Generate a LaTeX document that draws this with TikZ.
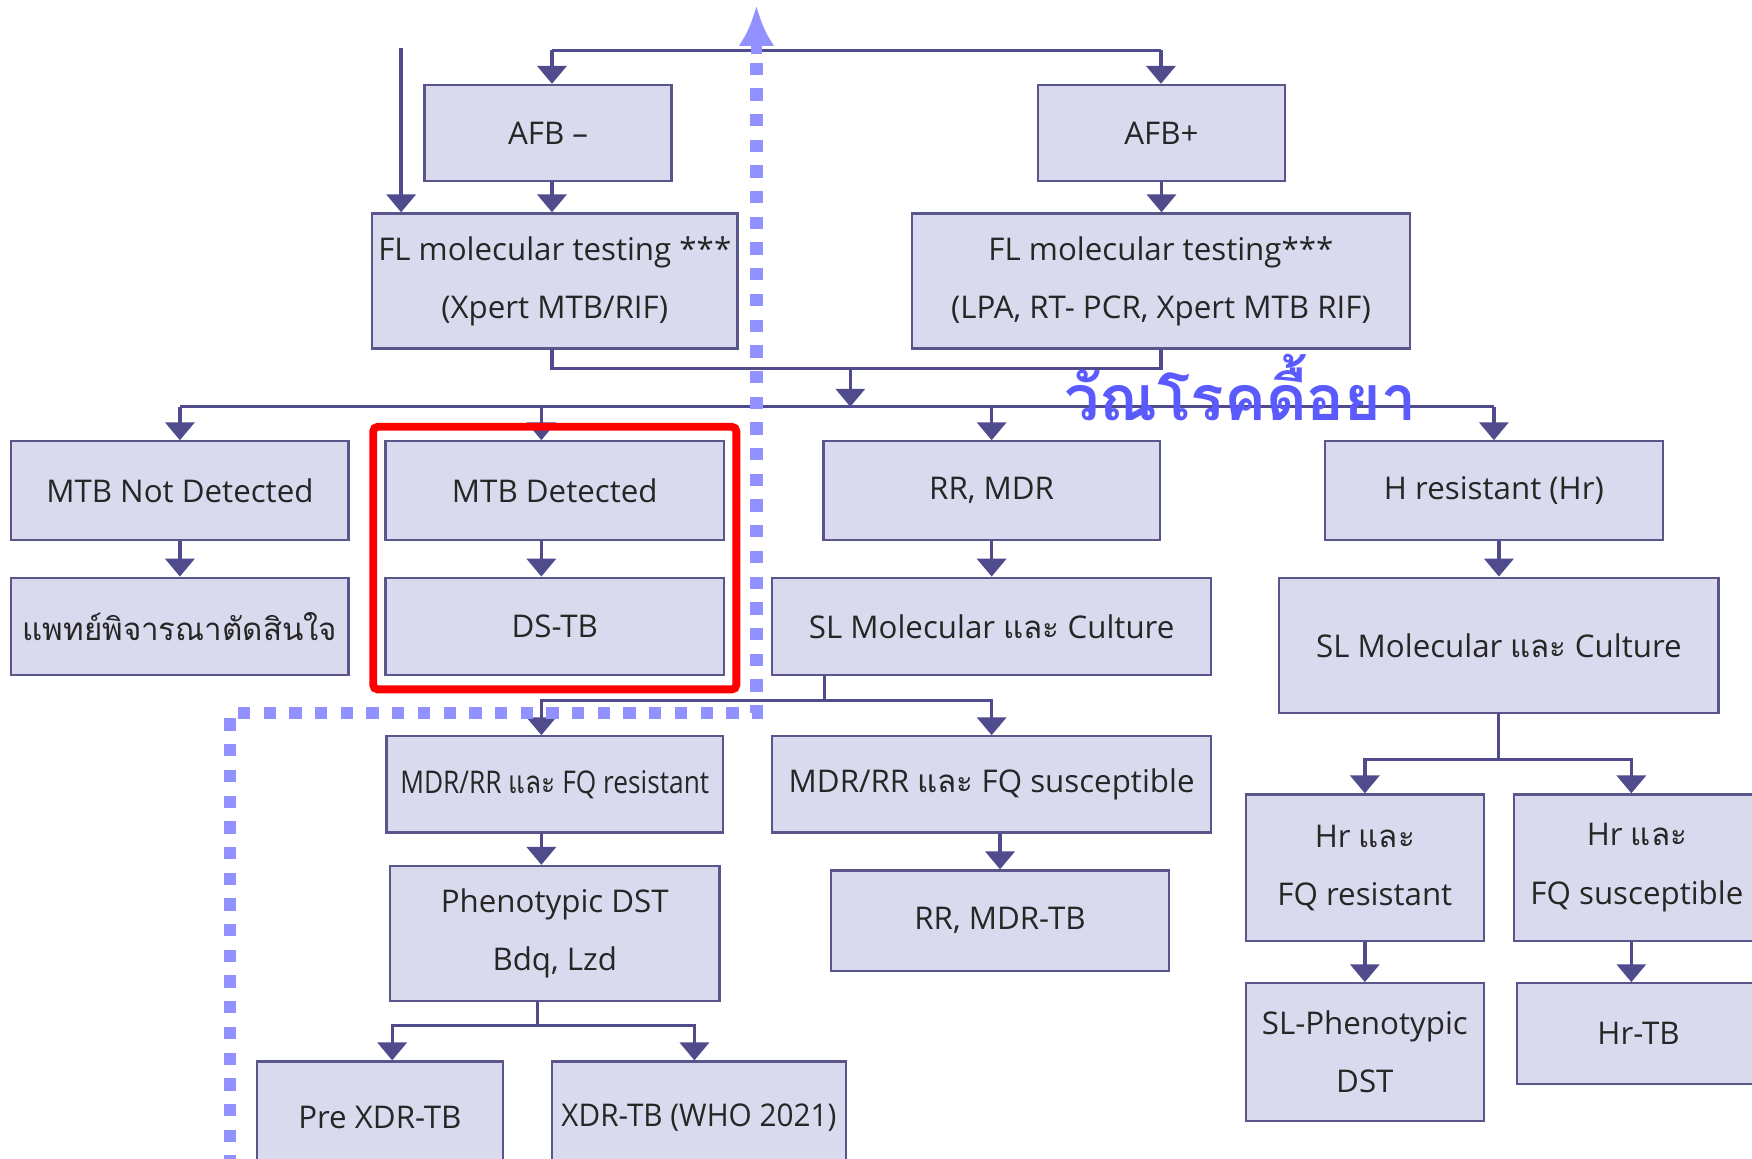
\documentclass[tikz,border=0pt]{standalone}
\usepackage{fontspec}
\setmainfont{Open Sans}
\newfontfamily\thaifont[Script=Thai]{Loma}
\usetikzlibrary{arrows.meta,fit,calc}
\definecolor{boxfill}{RGB}{218,218,238}
\definecolor{boxline}{RGB}{90,86,140}
\definecolor{connc}{RGB}{80,75,140}
\definecolor{dotc}{RGB}{145,145,255}
\definecolor{thaiblue}{RGB}{90,90,255}
\newcommand{\thx}[1]{{\thaifont #1}}
\begin{document}
\begin{tikzpicture}[x=0.5pt,y=-0.5pt,
  box/.style={draw=boxline, fill=boxfill, line width=1pt, inner sep=0pt, align=center,
    font=\fontsize{14}{26}\selectfont, text=black!85},
  conn/.style={draw=connc, line width=1.5pt},
  arr/.style={conn, -{Triangle[width=13pt,length=8pt]}},
  dotline/.style={draw=dotc, line width=5.5pt, dash pattern=on 5.5pt off 6pt},
  redframe/.style={draw=red, line width=3.5pt, rounded corners=2pt, inner xsep=5pt, inner ysep=6pt}
]
\useasboundingbox (0,0) rectangle (1568,1037);
\fill[white] (0,0) rectangle (1568,1037);

% boxes
\node[box, minimum width=110.5pt, minimum height=43pt] (afbm) at (490.5,119) {AFB –};
\node[box, minimum width=110.5pt, minimum height=43pt] (afbp) at (1039.5,119) {AFB+};
\node[box, minimum width=163.5pt, minimum height=60.5pt] (fll) at (496.5,251.5) {FL molecular testing ***\\(Xpert MTB/RIF)};
\node[box, minimum width=223pt, minimum height=60.5pt] (flr) at (1039,251.5) {FL molecular testing***\\(LPA, RT- PCR, Xpert MTB RIF)};

\node[box, minimum width=151pt, minimum height=44pt] (mnd) at (161,439) {MTB Not Detected};
\node[box, minimum width=151.5pt, minimum height=44pt] (md) at (496.5,439) {MTB Detected};
\node[box, minimum width=150.5pt, minimum height=44pt] (rrmdr) at (887.5,439) {RR, MDR};
\node[box, minimum width=151pt, minimum height=44pt] (hres) at (1337,439) {H resistant (Hr)};

\node[box, minimum width=151pt, minimum height=43.5pt] (doc) at (161,560.5) {\thx{แพทย์พิจารณาตัดสินใจ}};
\node[box, minimum width=151.5pt, minimum height=43.5pt] (dstb) at (496.5,560.5) {DS-TB};
\node[box, minimum width=196.5pt, minimum height=43.5pt] (slm) at (887.5,560.5) {SL Molecular \thx{และ} Culture};
\node[box, minimum width=196.5pt, minimum height=60.5pt] (slr) at (1341.5,577.5) {SL Molecular \thx{และ} Culture};

\node[box, minimum width=150.5pt, minimum height=43pt] (mfqr) at (496.5,702) {\scalebox{0.84}[1]{MDR/RR \thx{และ} FQ resistant}};
\node[box, minimum width=196.5pt, minimum height=43pt] (mfqs) at (887.5,702) {MDR/RR \thx{และ} FQ susceptible};
\node[box, minimum width=147.5pt, minimum height=60.5pt] (pheno) at (496.5,835.5) {Phenotypic DST\\Bdq, Lzd};
\node[box, minimum width=151pt, minimum height=45pt] (rrmdrtb) at (895,824) {RR, MDR-TB};
\node[box, minimum width=110pt, minimum height=50pt] (prexdr) at (340,1000) {Pre XDR-TB};
\node[box, minimum width=131.5pt, minimum height=50pt] (xdr) at (625.5,1000) {\scalebox{0.95}[1]{XDR-TB (WHO 2021)}};

\node[box, minimum width=106.5pt, minimum height=65.5pt] (hrfqr) at (1221.5,776.5) {Hr \thx{และ}\\FQ resistant};
\node[box, minimum width=110pt, minimum height=65.5pt] (hrfqs) at (1465,776.5) {Hr \thx{และ}\\FQ susceptible};
\node[box, minimum width=106.5pt, minimum height=61.5pt] (slpheno) at (1221.5,941.5) {SL-Phenotypic\\DST};
\node[box, minimum width=108.5pt, minimum height=45pt] (hrtb) at (1466.5,925) {Hr-TB};

% helper coordinates
\coordinate (topL) at (494,45);
\coordinate (topR) at (1039,45);
\coordinate (lin) at (359,43);
\coordinate (jn) at (761,330);
\coordinate (dist) at (761,364);
\coordinate (aMD) at ([xshift=-6pt]md.north);
\coordinate (sp1) at (738,627);
\coordinate (aMF) at ([xshift=-6pt]mfqr.north);
\coordinate (sp2) at (481,918);
\coordinate (aPX) at ([xshift=5.5pt]prexdr.north);
\coordinate (aXD) at ([xshift=-2pt]xdr.north);
\coordinate (sp3) at (1341,680);
\coordinate (aHS) at ([xshift=-2.5pt]hrfqs.north);

% connectors
\draw[conn] (topL) -- (topR);
\draw[arr] (topL) -- (topL |- afbm.north);
\draw[arr] (topR) -- (topR |- afbp.north);
\draw[arr] (lin) -- (lin |- fll.north);
\draw[arr] (topL |- afbm.south) -- (topL |- fll.north);
\draw[arr] (afbp.south) -- (afbp.south |- flr.north);
\draw[conn] (topL |- fll.south) -- (topL |- jn) -- (jn) -| (flr.south);
\draw[arr] (jn) -- (dist);
\draw[conn] (mnd.north |- dist) -- (hres.north |- dist);
\draw[arr] (mnd.north |- dist) -- (mnd.north);
\draw[arr] (aMD |- dist) -- (aMD);
\draw[arr] (rrmdr.north |- dist) -- (rrmdr.north);
\draw[arr] (hres.north |- dist) -- (hres.north);

\draw[arr] (mnd.south) -- (doc.north);
\draw[arr] ([xshift=-6pt]md.south) -- ([xshift=-6pt]dstb.north);
\draw[arr] (rrmdr.south) -- (rrmdr.south |- slm.north);
\draw[arr] (slr.north |- hres.south) -- (slr.north);

\draw[conn] (sp1 |- slm.south) -- (sp1);
\draw[arr] (sp1) -| (aMF);
\draw[arr] (sp1) -| (mfqs.north);
\draw[arr] ([xshift=-6pt]mfqr.south) -- ([xshift=-6pt]pheno.north);
\draw[arr] (rrmdrtb.north |- mfqs.south) -- (rrmdrtb.north);

\draw[conn] (sp2 |- pheno.south) -- (sp2);
\draw[arr] (sp2) -| (aPX);
\draw[arr] (sp2) -| (aXD);

\draw[conn] (slr.south -| sp3) -- (sp3);
\draw[arr] (sp3) -| (hrfqr.north);
\draw[arr] (sp3) -| (aHS);
\draw[arr] (hrfqr.south) -- (slpheno.north);
\draw[arr] (aHS |- hrfqs.south) -- (aHS |- hrtb.north);

% red highlight
\node[redframe, fit=(md)(dstb)] (hl) {};

% dotted path
\coordinate (d0) at (206,1045);
\coordinate (d1) at (206,638);
\coordinate (d2) at (677,638);
\coordinate (d3) at (677,48);
\coordinate (d4) at (677,5);
\draw[dotline] (d0) -- (d1) -- (d2) -- (d3);
\draw[draw=dotc, fill=dotc, line width=5pt, -{Latex[width=16pt,length=18pt]}] (d3) -- (d4);

% label
\node[text=thaiblue, font=\thaifont\bfseries\fontsize{28}{30}\selectfont] (lbl) at (1110,347) {วัณโรคดื้อยา};
\end{tikzpicture}
\end{document}
